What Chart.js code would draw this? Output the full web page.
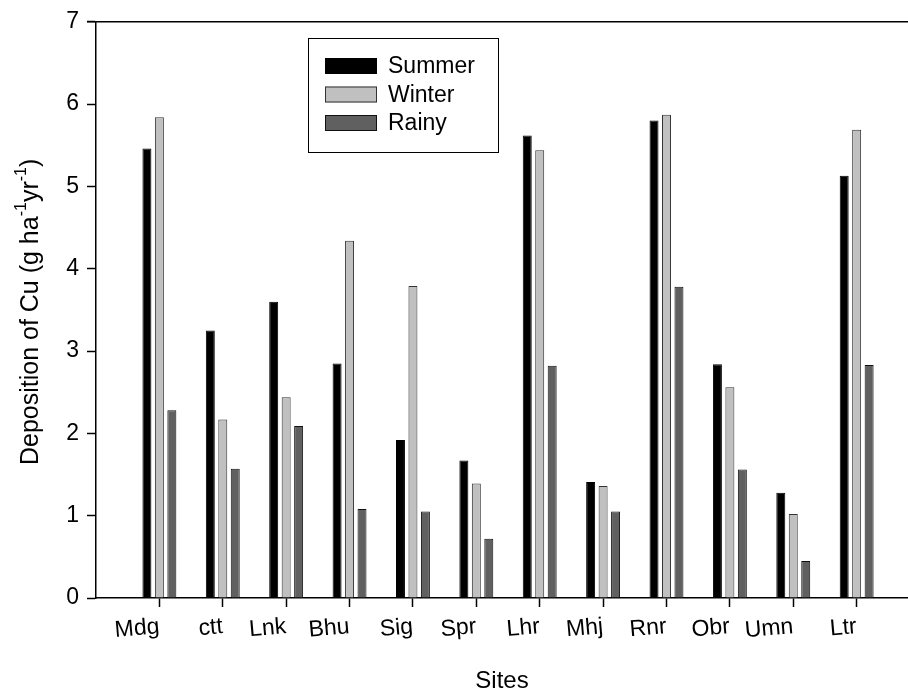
<!DOCTYPE html>
<html lang="en">
  <head>
    <meta charset="UTF-8" />
    <title>Deposition of Cu by site</title>
    <script src="https://cdn.jsdelivr.net/npm/chart.js"></script>
    <style>
      html, body { margin: 0; padding: 0; background: #fff; }
      #wrap { width: 908px; height: 692px; }
    </style>
  </head>
  <body>
    <div id="wrap"><canvas id="myChart" width="908" height="692"></canvas></div>

<script>
  // values (g ha-1 yr-1)
  var sites  = ["Mdg", "ctt", "Lnk", "Bhu", "Sig", "Spr", "Lhr", "Mhj", "Rnr", "Obr", "Umn", "Ltr"];
  var summer = [5.46, 3.25, 3.60, 2.85, 1.92, 1.67, 5.62, 1.41, 5.80, 2.84, 1.28, 5.13];
  var winter = [5.84, 2.17, 2.44, 4.34, 3.79, 1.39, 5.44, 1.36, 5.87, 2.56, 1.02, 5.69];
  var rainy  = [2.28, 1.57, 2.09, 1.08, 1.05, 0.72, 2.82, 1.05, 3.78, 1.56, 0.45, 2.83];
  var yTicks = [0, 1, 2, 3, 4, 5, 6, 7];

  var fonte = "'Liberation Sans', Arial, sans-serif";

  function pontos(valores) {
    return valores.map(function (v, i) { return { x: i + 1, y: v }; });
  }

  // top frame line + y title with superscripts + boxed legend
  var extras = {
    id: "extras",
    afterDraw: function (chart) {
      var ctx = chart.ctx;
      var a = chart.chartArea;
      ctx.save();
      ctx.strokeStyle = "#000";
      ctx.lineWidth = 1.5;
      ctx.beginPath();
      ctx.moveTo(a.left - 9, a.top);
      ctx.lineTo(a.right, a.top);
      ctx.stroke();

      // y title
      ctx.translate(31, (a.top + a.bottom) / 2 + 2);
      ctx.rotate(-Math.PI / 2);
      var partes = [
        ["Deposition of Cu (g ha", false],
        ["-1", true],
        ["yr", false],
        ["-1", true],
        [")", false]
      ];
      var total = 0;
      partes.forEach(function (p) {
        ctx.font = (p[1] ? "16px " : "25px ") + fonte;
        total += ctx.measureText(p[0]).width;
      });
      var x = -total / 2;
      ctx.fillStyle = "#000";
      ctx.textBaseline = "middle";
      partes.forEach(function (p) {
        ctx.font = (p[1] ? "16px " : "25px ") + fonte;
        ctx.fillText(p[0], x, p[1] ? -9 : 0);
        x += ctx.measureText(p[0]).width;
      });
      ctx.restore();

      // legend
      ctx.save();
      ctx.strokeStyle = "#000";
      ctx.lineWidth = 1;
      ctx.strokeRect(308.5, 38.5, 190, 114);
      ctx.font = "23px " + fonte;
      ctx.textBaseline = "middle";
      chart.data.datasets.forEach(function (ds, i) {
        var cy = 66 + i * 28.5;
        ctx.fillStyle = ds.backgroundColor;
        ctx.fillRect(325, cy - 8, 52, 16);
        ctx.strokeStyle = ds.borderColor;
        ctx.strokeRect(325.5, cy - 7.5, 51, 15);
        ctx.fillStyle = "#000";
        ctx.fillText(ds.label, 388, cy + 1);
      });
      ctx.restore();
    }
  };

  var ctx = document.getElementById("myChart");
  new Chart(ctx, {
    type: "bar",
    data: {
      datasets: [
        { label: "Summer", data: pontos(summer), backgroundColor: "#000000", borderColor: "#000000", borderWidth: 1 },
        { label: "Winter", data: pontos(winter), backgroundColor: "#c0c0c0", borderColor: "#333333", borderWidth: 1 },
        { label: "Rainy",  data: pontos(rainy),  backgroundColor: "#606060", borderColor: "#111111", borderWidth: 1 }
      ]
    },
    options: {
      responsive: false,
      animation: false,
      events: [],
      layout: { padding: { top: 21, right: 0, left: 0, bottom: 0 } },
      datasets: { bar: { categoryPercentage: 0.59, barPercentage: 0.72 } },
      plugins: { legend: { display: false }, tooltip: { enabled: false } },
      scales: {
        x: {
          type: "linear",
          offset: false,
          min: 0,
          max: 12.81,
          afterBuildTicks: function (axis) {
            axis.ticks = sites.map(function (s, i) { return { value: i + 1 }; });
          },
          afterFit: function (axis) { axis.height = 94; },
          grid: { display: true, offset: false, drawOnChartArea: false, drawTicks: true, tickLength: 9, tickColor: "#000", tickWidth: 1.5 },
          border: { display: true, color: "#000", width: 1.5 },
          ticks: {
            autoSkip: false,
            minRotation: 5,
            maxRotation: 5,
            padding: 6,
            color: "#000",
            font: { family: fonte, size: 23 },
            callback: function (v) { return sites[v - 1]; }
          },
          title: {
            display: true,
            text: "Sites",
            color: "#000",
            font: { family: fonte, size: 24 },
            padding: { top: 0, bottom: -4 }
          }
        },
        y: {
          min: 0,
          max: 7,
          afterBuildTicks: function (axis) {
            axis.ticks = yTicks.map(function (v) { return { value: v }; });
          },
          afterFit: function (axis) { axis.width = 96; },
          grid: { display: true, drawOnChartArea: false, drawTicks: true, tickLength: 9, tickColor: "#000", tickWidth: 1.5 },
          border: { display: true, color: "#000", width: 1.5 },
          ticks: {
            padding: 8,
            color: "#000",
            font: { family: fonte, size: 23 }
          }
        }
      }
    },
    plugins: [extras]
  });
</script>
  </body>
</html>
